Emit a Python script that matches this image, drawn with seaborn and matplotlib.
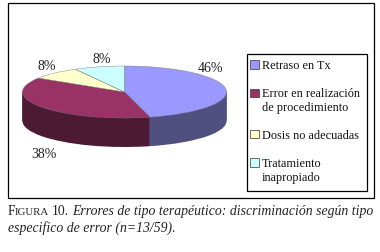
import matplotlib
matplotlib.use("Agg")
import matplotlib.pyplot as plt
from matplotlib.patches import Rectangle
import seaborn as sns

categories = ["Retraso en Tx", "Error en realización\nde procedimiento", "Dosis no adecuadas", "Tratamiento\ninapropiado"]
values = [46, 38, 8, 8]
top_colors = ["#9999FF", "#993366", "#FFFFCC", "#CCFFFF"]
side_colors = ["#4F4F80", "#4D1A33", "#807F66", "#668080"]
caption_head = "10."
caption_line1 = "Errores de tipo terapéutico: discriminación según tipo"
caption_line2 = "especifico de error (n=13/59)."

sns.set_theme(style="white")
plt.rcParams["font.family"] = ["Liberation Serif", "DejaVu Serif"]

W, H = 380, 253
fig = plt.figure(figsize=(W / 100, H / 100), dpi=100, facecolor="white")

def fx(x): return x / W
def fy(y): return 1 - y / H

# outer frame and legend frame
fig.add_artist(Rectangle((fx(8), fy(199)), fx(374) - fx(8), fy(4) - fy(199), transform=fig.transFigure,
                         fill=False, ec="black", lw=0.9))
fig.add_artist(Rectangle((fx(246.5), fy(192)), fx(367) - fx(246.5), fy(54.5) - fy(192), transform=fig.transFigure,
                         fill=False, ec="black", lw=0.9))

# squashed pie axes
cx, cy, rx, ry, depth = 124.5, 93, 102, 26, 29
ax = fig.add_axes([fx(cx - 1.25 * rx), fy(cy + 2.6 * ry), 2.5 * rx / W, 5.2 * ry / H])
layers = 30
for i in range(layers, 0, -1):
    w, _ = ax.pie(values, colors=side_colors, startangle=90, counterclock=False, radius=1,
                  center=(0, -depth / ry * i / layers), wedgeprops=dict(lw=0.3, edgecolor="none"))
top, _ = ax.pie(values, colors=top_colors, startangle=90, counterclock=False, radius=1,
                center=(0, 0), wedgeprops=dict(lw=0.3, edgecolor="#777777"))
ax.set_aspect("auto")
ax.set_xlim(-1.25, 1.25)
ax.set_ylim(-2.6, 2.6)
ax.axis("off")

# percentage labels
label_pos = [(210, 68), (44, 155), (47, 67), (102, 60)]
for v, (x, y) in zip(values, label_pos):
    fig.text(fx(x), fy(y), f"{v}%", ha="center", va="center", fontsize=10, color="#222222")

# legend
leg = fig.legend(top, categories, loc="upper left", bbox_to_anchor=(fx(250), fy(60.5)), frameon=False,
                 fontsize=8.85, handlelength=0.72, handleheight=0.72, handletextpad=0.25,
                 labelspacing=1.3, borderpad=0, borderaxespad=0, labelcolor="#111111")
for h, lab in zip(leg.legend_handles, categories):
    h.set_edgecolor("#333333")
    h.set_linewidth(0.5)
    if "\n" in lab:
        h.set_y(h.get_y() + 5.5)

# caption
fig.text(fx(8), fy(215), "F", fontsize=9.8, color="#222222")
fig.text(fx(14.5), fy(215), "IGURA", fontsize=7.8, color="#222222")
fig.text(fx(52), fy(215), caption_head, fontsize=9.9, color="#222222")
fig.text(fx(72.5), fy(215), caption_line1, fontsize=9.9, style="italic", color="#222222")
fig.text(fx(8), fy(232), caption_line2, fontsize=9.9, style="italic", color="#222222")

fig.savefig("out.png", dpi=100, facecolor="white")
